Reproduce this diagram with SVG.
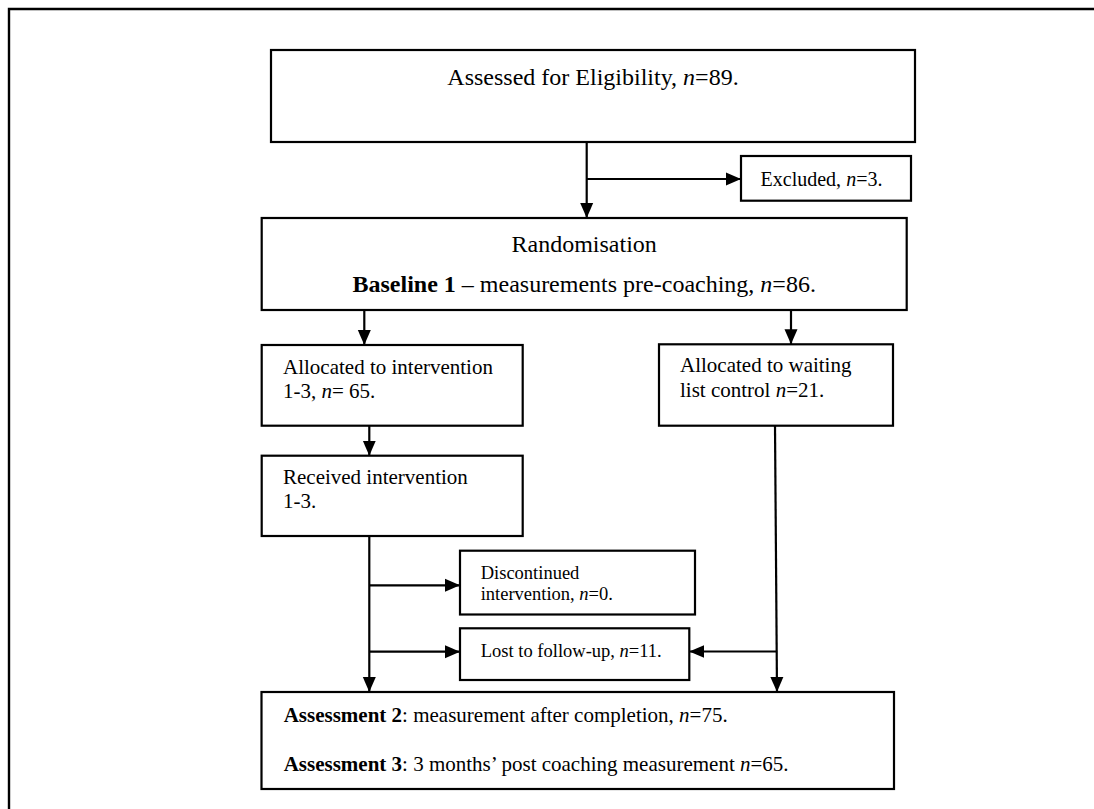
<svg xmlns="http://www.w3.org/2000/svg" width="1094" height="809" viewBox="0 0 1094 809">
  <style>
    .box { fill: #ffffff; stroke: #000000; stroke-width: 2.2; }
    .frame { fill: none; stroke: #000000; stroke-width: 2.4; }
    .link { fill: none; stroke: #000000; stroke-width: 2.2; }
    text { font-family: "Liberation Serif", "Times New Roman", serif; fill: #000000; }
    .big { font-size: 24px; }
    .mid { font-size: 21px; }
    .exc { font-size: 20px; }
    .small { font-size: 18.5px; }
    .it { font-style: italic; }
    .b { font-weight: bold; }
  </style>
  <defs>
    <marker id="arrow" markerUnits="userSpaceOnUse" markerWidth="16" markerHeight="14" refX="15" refY="7" orient="auto">
      <path d="M0,0.5 L15,7 L0,13.5 Z" fill="#000000"/>
    </marker>
  </defs>

  <rect width="1094" height="809" fill="#ffffff"/>
  <!-- outer frame, open to the right and bottom -->
  <path class="frame" d="M9,812 V9 H1100"/>

  <!-- connectors -->
  <g id="connectors">
    <line class="link" x1="586.7" y1="142" x2="586.7" y2="218" marker-end="url(#arrow)"/>
    <line class="link" x1="586.7" y1="179" x2="741" y2="179" marker-end="url(#arrow)"/>
    <line class="link" x1="364.3" y1="310" x2="364.3" y2="345" marker-end="url(#arrow)"/>
    <line class="link" x1="791" y1="310" x2="791" y2="344.3" marker-end="url(#arrow)"/>
    <line class="link" x1="369.3" y1="426" x2="369.3" y2="455.7" marker-end="url(#arrow)"/>
    <line class="link" x1="369.3" y1="536" x2="369.3" y2="692" marker-end="url(#arrow)"/>
    <line class="link" x1="369.3" y1="585.3" x2="460" y2="585.3" marker-end="url(#arrow)"/>
    <line class="link" x1="369.3" y1="651.7" x2="460" y2="651.7" marker-end="url(#arrow)"/>
    <line class="link" x1="775" y1="426" x2="777" y2="692" marker-end="url(#arrow)"/>
    <line class="link" x1="776.6" y1="651.5" x2="689.3" y2="651.5" marker-end="url(#arrow)"/>
  </g>

  <g id="eligibility">
    <rect class="box" x="271" y="50" width="644" height="92"/>
    <text class="big" x="593" y="85" text-anchor="middle">Assessed for Eligibility, <tspan class="it">n</tspan>=89.</text>
  </g>

  <g id="excluded">
    <rect class="box" x="741" y="156" width="170" height="44.7"/>
    <text class="exc" x="760.6" y="186">Excluded, <tspan class="it">n</tspan>=3.</text>
  </g>

  <g id="randomisation">
    <rect class="box" x="261.7" y="218" width="645" height="92"/>
    <text class="big" x="584.2" y="251.7" text-anchor="middle">Randomisation</text>
    <text class="big" x="584.2" y="292" text-anchor="middle"><tspan class="b">Baseline 1</tspan> – measurements pre-coaching, <tspan class="it">n</tspan>=86.</text>
  </g>

  <g id="allocated-intervention">
    <rect class="box" x="261.7" y="345" width="261" height="80.7"/>
    <text class="mid" x="283" y="374">Allocated to intervention</text>
    <text class="mid" x="283" y="398">1-3, <tspan class="it">n</tspan>= 65.</text>
  </g>

  <g id="allocated-waiting">
    <rect class="box" x="659" y="344.3" width="234" height="81.4"/>
    <text class="mid" x="680" y="372">Allocated to waiting</text>
    <text class="mid" x="680" y="397">list control <tspan class="it">n</tspan>=21.</text>
  </g>

  <g id="received">
    <rect class="box" x="261.7" y="455.7" width="261" height="80.3"/>
    <text class="mid" x="283" y="484">Received intervention</text>
    <text class="mid" x="283" y="508">1-3.</text>
  </g>

  <g id="discontinued">
    <rect class="box" x="460" y="550.7" width="235" height="63.8"/>
    <text class="small" x="480.7" y="579">Discontinued</text>
    <text class="small" x="480.7" y="600">intervention, <tspan class="it">n</tspan>=0.</text>
  </g>

  <g id="lost">
    <rect class="box" x="460" y="628.3" width="229.3" height="51.7"/>
    <text class="small" x="480.8" y="656.7">Lost to follow-up, <tspan class="it">n</tspan>=11.</text>
  </g>

  <g id="assessment">
    <rect class="box" x="261.5" y="692" width="632.5" height="97"/>
    <text class="mid" x="283.7" y="721.7"><tspan class="b">Assessment 2</tspan>: measurement after completion, <tspan class="it">n</tspan>=75.</text>
    <text class="mid" x="283.7" y="770.7"><tspan class="b">Assessment 3</tspan>: 3 months’ post coaching measurement <tspan class="it">n</tspan>=65.</text>
  </g>
</svg>
